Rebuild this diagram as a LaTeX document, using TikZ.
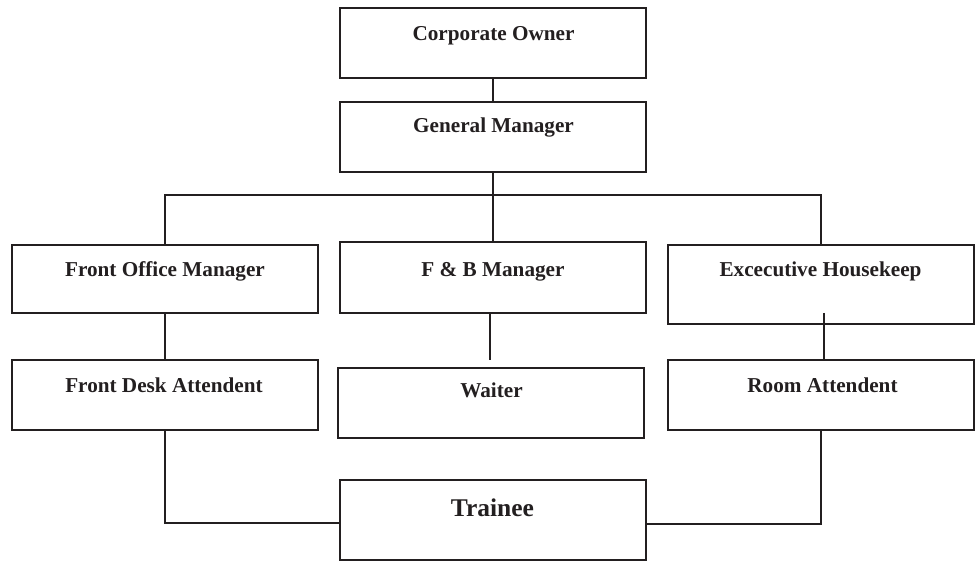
\documentclass[tikz,border=0pt]{standalone}
\usepackage{fontspec}
\setmainfont{Liberation Serif}
\definecolor{ink}{HTML}{231F20}
\begin{document}
\begin{tikzpicture}[x=1pt,y=-1pt,
  box/.style={draw=ink,line width=1.9pt,rectangle,inner sep=0pt,outer sep=0pt,minimum width=#1},
  box/.default=306pt,
  lab/.style={anchor=base,inner sep=0pt,text=ink,font=\fontsize{21.2}{25}\selectfont\bfseries},
  biglab/.style={anchor=base,inner sep=0pt,text=ink,font=\fontsize{25.5}{30}\selectfont\bfseries},
  conn/.style={draw=ink,line width=1.9pt}]
\useasboundingbox (0,0) rectangle (975,561);
% boxes
\node[box,minimum height=70pt] (co) at (493,43) {};
\node[box,minimum height=70pt] (gm) at (493,137) {};
\node[box,minimum height=68pt] (fom) at (165,279) {};
\node[box,minimum height=71pt] (fb) at (493,277.5) {};
\node[box,minimum height=79pt] (eh) at (821,284.5) {};
\node[box,minimum height=70pt] (fda) at (165,395) {};
\node[box,minimum height=70pt] (wt) at (491,403) {};
\node[box,minimum height=70pt] (ra) at (821,395) {};
\node[box,minimum height=80pt] (tr) at (493,520) {};
% labels
\node[lab] (coL) at (493.5,41) {Corporate Owner};
\node[lab] (gmL) at (493.5,133) {General Manager};
\node[lab] (fomL) at (165,277) {Front Office Manager};
\node[lab] (fbL) at (493,277) {F \& B Manager};
\node[lab] (ehL) at (820.5,277) {Excecutive Housekeep};
\node[lab] (fdaL) at (164,392) {Front Desk Attendent};
\node[lab] (wtL) at (491.5,398) {Waiter};
\node[lab] (raL) at (822.5,392) {Room Attendent};
\node[biglab] (trL) at (492.5,516) {Trainee};
% connectors
\coordinate (busy) at (0,195);
\coordinate (fbend) at (490,360);
\coordinate (ehl) at (824,313);
\draw[conn] (co.south) -- (gm.north);
\draw[conn] (gm.south) -- (fb.north);
\draw[conn] (fom.north) |- (busy -| eh.north) -- (eh.north);
\draw[conn] (fom.south) -- (fda.north);
\draw[conn] (fbend |- fb.south) -- (fbend);
\draw[conn] (ehl) -- (ehl |- ra.north);
\draw[conn] (fda.south) |- ([yshift=-3pt]tr.west);
\draw[conn] (ra.south) |- ([yshift=-4pt]tr.east);
\end{tikzpicture}
\end{document}
